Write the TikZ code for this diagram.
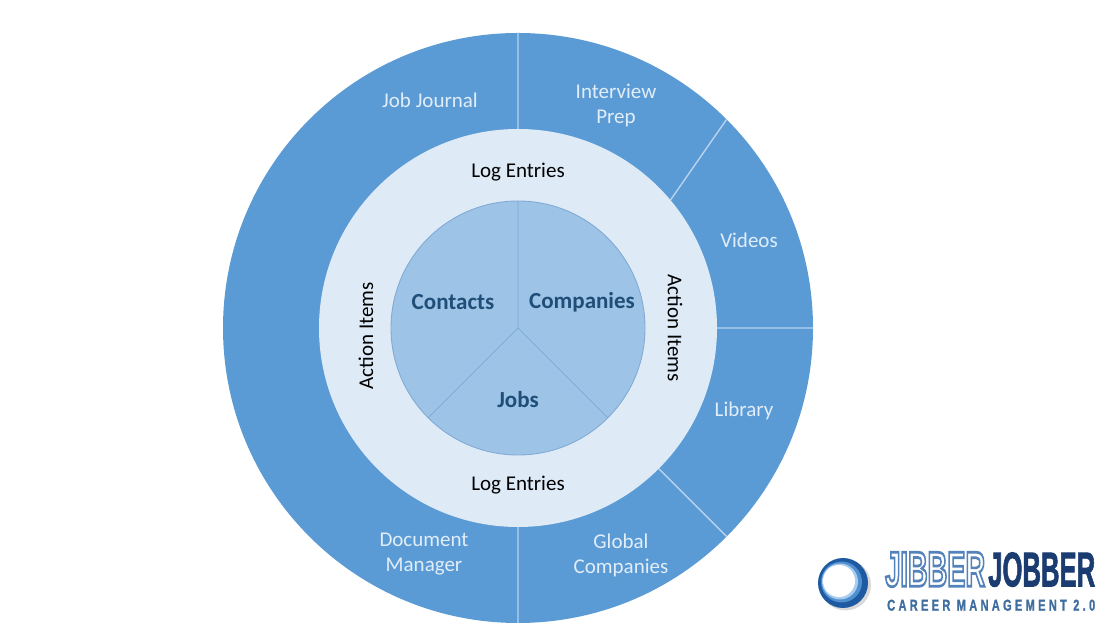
\documentclass[tikz,border=0pt]{standalone}
\usepackage{fontspec}
\setmainfont{Carlito}
\newfontfamily\logofont{Liberation Sans}
\newfontfamily\logoheavy[FakeBold=2]{Liberation Sans Bold}
\newfontfamily\taglinefont[LetterSpace=30, FakeBold=1.5]{Liberation Sans Bold}
\usepackage{graphicx}
\usepackage{xcolor}
\usetikzlibrary{positioning}

\definecolor{ringblue}{HTML}{5B9BD5}
\definecolor{ringpale}{HTML}{DEEBF7}
\definecolor{coreblue}{HTML}{9DC3E6}
\definecolor{coreedge}{HTML}{82AAD5}
\definecolor{coretext}{HTML}{1F4E79}
\definecolor{ringtext}{HTML}{E1EDF8}
\definecolor{ringline}{HTML}{B7D3EE}
\definecolor{jjnavy}{HTML}{1B3C70}
\definecolor{jjblue}{HTML}{3F6D9F}
\definecolor{jjdeep}{HTML}{1E5AA2}
\definecolor{jjmid}{HTML}{4F8FD0}
\definecolor{jjpale}{HTML}{A9CDEE}

\tikzstyle{outerlabel} = [text=ringtext, align=center, font=\fontsize{21}{25}\selectfont]
\tikzstyle{midlabel} = [text=black, font=\fontsize{21}{25}\selectfont]
\tikzstyle{corelabel} = [text=coretext, font=\fontsize{23}{27}\selectfont\bfseries]
\tikzstyle{divider} = [draw=ringline, line width=1.4pt]
\tikzstyle{slice} = [draw=coreedge, line width=0.9pt]
\tikzstyle{logotext} = [anchor=south west, inner sep=0pt]

\newcommand{\outlineword}[1]{\special{pdf:literal direct 2 Tr 2.6 w}\textcolor{white}{\special{pdf:literal direct 0.329 0.510 0.729 RG}#1}\special{pdf:literal direct 0 Tr}}
\newcommand{\jibberword}{\resizebox{100pt}{34pt}{\logofont\fontsize{47}{47}\selectfont\bfseries JIBBER}}

\begin{document}
\begin{tikzpicture}[x=1pt, y=1pt]
        \useasboundingbox (0,0) rectangle (1115,628);
        \coordinate (O) at (518,300);
        \fill[ringblue] (O) circle[radius=295pt];
        \fill[ringpale] (O) circle[radius=199pt];
        \filldraw[fill=coreblue, draw=coreedge, line width=0.9pt] (O) circle[radius=127pt];
        \draw[divider] ([shift={(90:199pt)}]O) -- ([shift={(90:295pt)}]O)
        ([shift={(40:199pt)}]O) -- ([shift={(45:295pt)}]O)
        ([shift={(0:199pt)}]O) -- ([shift={(0:295pt)}]O)
        ([shift={(-45:199pt)}]O) -- ([shift={(-45:295pt)}]O)
        ([shift={(-90:199pt)}]O) -- ([shift={(-90:295pt)}]O);
        \draw[slice] ([shift={(90:127pt)}]O) -- (O) -- ([shift={(225:127pt)}]O)
        (O) -- ([shift={(-45:127pt)}]O);
        \node[outerlabel, above of=O, node distance=228pt, xshift=-88pt] (journal) {Job Journal};
        \node[outerlabel, above of=O, node distance=223pt, xshift=98pt] (interview) {Interview\\Prep};
        \node[outerlabel, right of=O, node distance=231pt, yshift=88pt] (videos) {Videos};
        \node[outerlabel, right of=O, node distance=226pt, yshift=-83pt] (library) {Library};
        \node[outerlabel, below of=O, node distance=227pt, xshift=103pt] (global) {Global\\Companies};
        \node[outerlabel, below of=O, node distance=226pt, xshift=-94pt] (docmanager) {Document\\Manager};
        \node[midlabel, above of=O, node distance=156pt] (logtop) {Log Entries};
        \node[midlabel, below of=O, node distance=157pt] (logbottom) {Log Entries};
        \node[midlabel, rotate=90] (actionleft) at ([shift={(-152pt,-8pt)}]O) {Action Items};
        \node[midlabel, rotate=-90] (actionright) at ([shift={(157pt,0pt)}]O) {Action Items};
        \node[corelabel, left of=O, node distance=65pt, yshift=26pt] (contacts) {Contacts};
        \node[corelabel, right of=contacts, node distance=129pt] (companies) {Companies};
        \node[corelabel, below of=O, node distance=72pt] (jobs) {Jobs};
        \fill[black!15] (845.5,43) circle[radius=25.5pt];
        \fill[jjdeep] (843,45) circle[radius=25pt];
        \fill[jjmid] (841.5,46) circle[radius=20.5pt];
        \fill[jjpale] (840,46.5) circle[radius=18pt];
        \fill[white] (839,47) circle[radius=16pt];
        \node[logotext] (jibber) at (885,41) {\outlineword{\jibberword}};
        \node[logotext, text=jjnavy] (jobber) at (988,41) {\resizebox{107pt}{34pt}{\logoheavy JOBBER}};
        \node[logotext, text=jjblue] (tagline) at (887,17) {\resizebox{208pt}{11pt}{\taglinefont CAREER MANAGEMENT 2.0}};
    \end{tikzpicture}
\end{document}
